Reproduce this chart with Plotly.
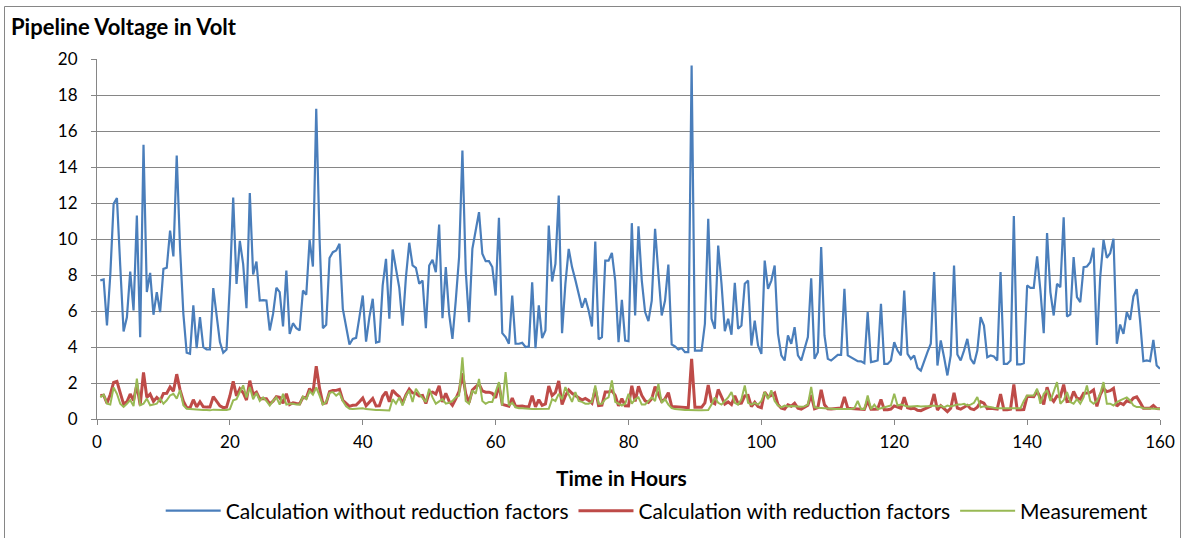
import plotly.graph_objects as go

# Hours: half-hour sampling from 0.5 h to 160 h
hours = [i * 0.5 for i in range(1, 321)]

without_reduction = [
    7.7, 7.75, 5.2, 8.0, 11.95, 12.27, 8.5, 4.86, 5.65, 8.19,
    6.03, 11.3, 4.54, 15.23, 7.05, 8.12, 5.79, 7.05, 5.94, 8.34,
    8.4, 10.47, 9.03, 14.64, 9.5, 5.84, 3.68, 3.62, 6.31, 3.94,
    5.66, 3.99, 3.86, 3.86, 7.27, 5.66, 4.27, 3.68, 3.86, 7.5,
    12.3, 7.5, 9.9, 8.6, 6.16, 12.55, 8.03, 8.75, 6.58, 6.6,
    6.58, 4.92, 5.84, 7.29, 7.05, 5.14, 8.25, 4.73, 5.32, 5.05,
    4.92, 7.14, 6.9, 9.95, 8.47, 17.23, 10.0, 5.05, 5.23, 8.94,
    9.27, 9.36, 9.73, 6.12, 5.1, 4.14, 4.45, 4.51, 5.66, 6.86,
    4.3, 5.66, 6.68, 4.25, 4.3, 7.42, 8.9, 5.57, 9.42, 8.25,
    7.29, 5.19, 7.88, 9.79, 8.53, 8.4, 7.51, 7.69, 5.05, 8.53,
    8.84, 8.16, 10.8, 5.6, 8.44, 5.84, 4.45, 6.58, 8.99, 14.92,
    8.25, 5.38, 9.45, 10.47, 11.49, 9.18, 8.77, 8.77, 8.44, 6.86,
    11.18, 4.77, 4.55, 4.18, 6.86, 4.18, 4.18, 4.23, 4.0, 4.03,
    7.6, 3.94, 6.31, 4.49, 4.92, 10.75, 7.64, 8.62, 12.42, 4.77,
    7.51, 9.45, 8.44, 7.73, 6.95, 6.18, 6.71, 6.03, 5.14, 9.86,
    4.43, 4.55, 8.8, 8.8, 9.23, 7.69, 4.27, 6.62, 4.36, 4.32,
    10.88, 5.75, 10.7, 7.69, 5.94, 5.44, 6.58, 10.56, 8.07, 5.75,
    6.58, 8.58, 4.14, 4.03, 3.86, 3.94, 3.71, 3.71, 19.64, 3.8,
    3.8, 3.8, 5.29, 11.12, 5.57, 5.01, 9.64, 7.51, 4.88, 5.57,
    4.68, 7.57, 5.01, 5.19, 7.51, 7.69, 4.08, 5.47, 4.08, 3.62,
    8.8, 7.23, 7.69, 8.53, 4.73, 3.53, 3.25, 4.64, 4.18, 5.1,
    3.53, 3.25, 3.9, 4.55, 7.82, 3.34, 3.71, 9.55, 4.64, 3.34,
    3.25, 3.43, 3.56, 3.56, 7.23, 3.53, 3.43, 3.29, 3.21, 3.2,
    3.1, 5.94, 3.16, 3.2, 3.25, 6.4, 3.06, 3.06, 3.25, 4.27,
    3.8, 3.53, 7.14, 3.62, 3.34, 3.53, 2.84, 2.69, 3.25, 3.71,
    4.18, 8.16, 2.97, 4.36, 3.43, 2.42, 3.53, 8.53, 3.58, 3.25,
    3.8, 4.45, 3.34, 3.06, 3.8, 5.66, 5.19, 3.43, 3.53, 3.47,
    3.25, 8.16, 3.06, 3.06, 3.25, 11.27, 3.03, 3.03, 3.1, 7.42,
    7.29, 7.29, 9.03, 7.14, 4.77, 10.33, 7.05, 5.75, 7.51, 7.32,
    11.21, 5.69, 5.81, 8.99, 6.77, 6.49, 8.44, 8.47, 8.71, 9.51,
    4.12, 7.88, 9.95, 8.95, 9.21, 10.01, 4.18, 5.25, 4.73, 5.94,
    5.51, 6.81, 7.21, 5.47, 3.21, 3.25, 3.21, 4.4, 2.97, 2.79,
]

with_reduction = [
    1.31, 1.32, 0.88, 1.36, 2.03, 2.09, 1.45, 0.83, 0.96, 1.39,
    1.03, 1.92, 0.77, 2.59, 1.2, 1.38, 0.98, 1.2, 1.01, 1.42,
    1.43, 1.78, 1.54, 2.49, 1.62, 0.99, 0.63, 0.62, 1.07, 0.67,
    0.96, 0.68, 0.66, 0.66, 1.24, 0.96, 0.73, 0.63, 0.66, 1.28,
    2.09, 1.28, 1.68, 1.46, 1.05, 2.13, 1.37, 1.49, 1.12, 1.12,
    1.12, 0.84, 0.99, 1.24, 1.2, 0.87, 1.4, 0.8, 0.9, 0.86,
    0.84, 1.21, 1.17, 1.69, 1.44, 2.93, 1.7, 0.86, 0.89, 1.52,
    1.58, 1.59, 1.65, 1.04, 0.87, 0.7, 0.76, 0.77, 0.96, 1.17,
    0.73, 0.96, 1.14, 0.72, 0.73, 1.26, 1.51, 0.95, 1.6, 1.4,
    1.24, 0.88, 1.34, 1.66, 1.45, 1.43, 1.28, 1.31, 0.86, 1.45,
    1.5, 1.39, 1.84, 0.95, 1.43, 0.99, 0.76, 1.12, 1.53, 2.54,
    1.4, 0.91, 1.61, 1.78, 1.95, 1.56, 1.49, 1.49, 1.43, 1.17,
    1.9, 0.81, 0.77, 0.71, 1.17, 0.71, 0.71, 0.72, 0.68, 0.69,
    1.29, 0.67, 1.07, 0.76, 0.84, 1.83, 1.3, 1.47, 2.11, 0.81,
    1.28, 1.61, 1.43, 1.31, 1.18, 1.05, 1.14, 1.03, 0.87, 1.68,
    0.75, 0.77, 1.5, 1.5, 1.57, 1.31, 0.73, 1.13, 0.74, 0.73,
    1.85, 0.98, 1.82, 1.31, 1.01, 0.92, 1.12, 1.8, 1.37, 0.98,
    1.12, 1.46, 0.7, 0.69, 0.66, 0.67, 0.63, 0.63, 3.34, 0.65,
    0.65, 0.65, 0.9, 1.89, 0.95, 0.85, 1.64, 1.28, 0.83, 0.95,
    0.8, 1.29, 0.85, 0.88, 1.28, 1.31, 0.69, 0.93, 0.69, 0.62,
    1.5, 1.23, 1.31, 1.45, 0.8, 0.6, 0.55, 0.79, 0.71, 0.87,
    0.6, 0.55, 0.66, 0.77, 1.33, 0.57, 0.63, 1.62, 0.79, 0.57,
    0.55, 0.58, 0.61, 0.61, 1.23, 0.6, 0.58, 0.56, 0.55, 0.54,
    0.53, 1.01, 0.54, 0.54, 0.55, 1.09, 0.52, 0.52, 0.55, 0.73,
    0.65, 0.6, 1.21, 0.62, 0.57, 0.6, 0.48, 0.46, 0.55, 0.63,
    0.71, 1.39, 0.5, 0.74, 0.58, 0.41, 0.6, 1.45, 0.61, 0.55,
    0.65, 0.76, 0.57, 0.52, 0.65, 0.96, 0.88, 0.58, 0.6, 0.59,
    0.55, 1.39, 0.52, 0.52, 0.55, 1.92, 0.52, 0.52, 0.53, 1.26,
    1.24, 1.24, 1.54, 1.21, 0.81, 1.76, 1.2, 0.98, 1.28, 1.24,
    1.91, 0.97, 0.99, 1.53, 1.15, 1.1, 1.43, 1.44, 1.48, 1.62,
    0.7, 1.34, 1.69, 1.52, 1.57, 1.7, 0.71, 0.89, 0.8, 1.01,
    0.94, 1.16, 1.23, 0.93, 0.6, 0.6, 0.6, 0.75, 0.58, 0.57,
]

measurement = [
    1.2, 1.35, 0.85, 0.8, 1.75, 1.4, 0.85, 0.67, 0.85, 1.05,
    0.72, 2.25, 0.76, 0.85, 1.13, 0.76, 0.8, 0.85, 1.13, 0.85,
    1.04, 1.31, 1.4, 1.13, 1.6, 0.76, 0.57, 0.55, 0.53, 0.52,
    0.52, 0.5, 0.5, 0.48, 0.52, 0.5, 0.48, 0.5, 0.5, 0.55,
    1.04, 1.1, 1.5, 1.87, 1.2, 1.78, 1.1, 1.45, 1.0, 1.2,
    1.0, 0.75, 1.0, 1.2, 0.8, 1.4, 0.8, 0.85, 0.85, 0.8,
    0.8, 1.25, 1.1, 1.55, 1.35, 1.75, 1.3, 0.8, 0.95, 1.45,
    1.5, 1.3, 1.45, 1.0, 0.7, 0.57, 0.56, 0.57, 0.58, 0.6,
    0.55, 0.52, 0.5, 0.5, 0.5, 0.48, 0.48, 0.47, 1.1, 0.85,
    1.2, 0.75, 1.3, 1.58, 0.94, 1.68, 1.4, 1.2, 0.94, 1.68,
    1.2, 0.85, 1.0, 1.1, 0.85, 0.9, 1.0, 1.2, 1.3, 3.43,
    1.0, 0.85, 1.58, 1.4, 2.23, 1.0, 0.85, 0.95, 0.95, 1.5,
    2.05, 0.75, 2.6, 0.75, 0.9, 0.65, 0.6, 0.6, 0.57, 0.55,
    0.55, 0.55, 0.55, 0.55, 0.55, 0.57, 1.1, 1.0, 1.4, 1.1,
    1.77, 1.4, 0.95, 1.5, 1.0, 0.95, 0.85, 0.85, 0.95, 1.86,
    0.85, 0.85, 1.1, 1.2, 2.14, 0.95, 0.85, 0.75, 0.85, 1.4,
    0.85, 1.1, 1.2, 0.8, 0.8, 1.0, 1.2, 1.0, 1.95, 0.9,
    1.1, 0.8, 0.6, 0.55, 0.52, 0.5, 0.5, 0.5, 0.48, 0.48,
    0.48, 0.48, 0.5, 0.5, 0.8, 1.2, 0.9, 0.8, 1.0, 1.2,
    1.5, 0.9, 0.8, 1.1, 1.86, 0.9, 0.8, 0.9, 0.8, 1.0,
    1.5, 1.1, 1.59, 1.0, 0.75, 0.65, 0.75, 0.7, 0.72, 0.7,
    0.7, 0.68, 0.7, 0.8, 1.78, 0.65, 0.62, 0.6, 0.6, 0.58,
    0.57, 0.56, 0.55, 0.55, 0.55, 0.55, 0.55, 0.6, 1.0, 0.55,
    0.55, 1.3, 0.55, 0.8, 0.55, 0.6, 0.65, 0.7, 0.75, 1.4,
    0.75, 0.8, 0.75, 0.7, 0.7, 0.72, 0.72, 0.7, 0.7, 0.72,
    0.72, 0.75, 0.7, 0.75, 0.65, 0.75, 0.7, 0.75, 0.8, 0.8,
    0.85, 0.75, 0.8, 0.9, 1.22, 0.65, 0.7, 0.7, 0.65, 0.62,
    0.6, 0.6, 0.58, 0.58, 0.57, 0.57, 0.57, 0.6, 1.0, 1.31,
    1.3, 1.3, 1.68, 0.85, 1.4, 1.6, 1.0, 1.5, 2.05, 0.85,
    1.04, 1.5, 0.94, 0.85, 1.1, 0.85, 1.2, 1.86, 1.0, 0.85,
    1.0, 1.4, 2.05, 0.85, 0.85, 0.75, 0.93, 1.03, 1.12, 1.2,
    1.03, 0.75, 0.66, 0.66, 0.6, 0.6, 0.58, 0.58, 0.56, 0.56,
]

series_names = [
    "Calculation without reduction factors",
    "Calculation with reduction factors",
    "Measurement",
]
x_ticks = [0, 20, 40, 60, 80, 100, 120, 140, 160]
y_ticks = [0, 2, 4, 6, 8, 10, 12, 14, 16, 18, 20]

FONT = "Lato, 'Open Sans', Arial, sans-serif"
GRID = "#868686"

fig = go.Figure()
fig.add_trace(go.Scatter(x=hours, y=without_reduction, mode="lines",
                         name=series_names[0],
                         line=dict(color="#4A7EBB", width=2.2)))
fig.add_trace(go.Scatter(x=hours, y=with_reduction, mode="lines",
                         name=series_names[1],
                         line=dict(color="#BE4B48", width=3)))
fig.add_trace(go.Scatter(x=hours, y=measurement, mode="lines",
                         name=series_names[2],
                         line=dict(color="#98B954", width=2)))

W, H = 1185, 538
L, R, T, B = 97, 25, 59, 119
pw, ph = W - L - R, H - T - B

def px_x(p):
    return (p - L) / pw

def px_y(p):
    return (H - B - p) / ph

fig.update_layout(
    width=W, height=H,
    margin=dict(l=L, r=R, t=T, b=B, autoexpand=False),
    paper_bgcolor="white", plot_bgcolor="white",
    font=dict(family=FONT, size=17, color="black"),
    showlegend=True,
    legend=dict(orientation="h", x=0.527, xanchor="center",
                y=px_y(511), yanchor="middle",
                font=dict(family=FONT, size=21, color="black"),
                itemwidth=55, tracegroupgap=0,
                bgcolor="rgba(0,0,0,0)"),
    xaxis=dict(range=[0, 160], tickvals=x_ticks, ticks="outside",
               ticklen=5, tickcolor=GRID, showline=True, linecolor=GRID,
               linewidth=1, showgrid=False, zeroline=False,
               tickfont=dict(size=17), ticklabelstandoff=3),
    yaxis=dict(range=[0, 20], tickvals=y_ticks, ticks="outside",
               ticklen=5, tickcolor=GRID, showline=True, linecolor=GRID,
               linewidth=1, showgrid=True, gridcolor=GRID, gridwidth=1,
               zeroline=False, tickfont=dict(size=17),
               ticklabelstandoff=10),
    annotations=[
        dict(text="<b>Pipeline Voltage in Volt</b>", xref="paper", yref="paper",
             x=px_x(9), y=px_y(26), xanchor="left", yanchor="middle",
             showarrow=False, font=dict(family=FONT, size=22)),
        dict(text="<b>Time in Hours</b>", xref="paper", yref="paper",
             x=px_x(621), y=px_y(477), xanchor="center", yanchor="middle",
             showarrow=False, font=dict(family=FONT, size=21)),
    ],
    shapes=[
        dict(type="rect", xref="paper", yref="paper",
             x0=px_x(4.5), x1=px_x(1180.5), y0=px_y(545), y1=px_y(6.5),
             line=dict(color=GRID, width=1), fillcolor="rgba(0,0,0,0)",
             layer="below"),
    ],
)

fig.write_html("out.html",
               config={"displayModeBar": False},
               post_script="document.body.style.margin='0';document.body.style.padding='0';")
